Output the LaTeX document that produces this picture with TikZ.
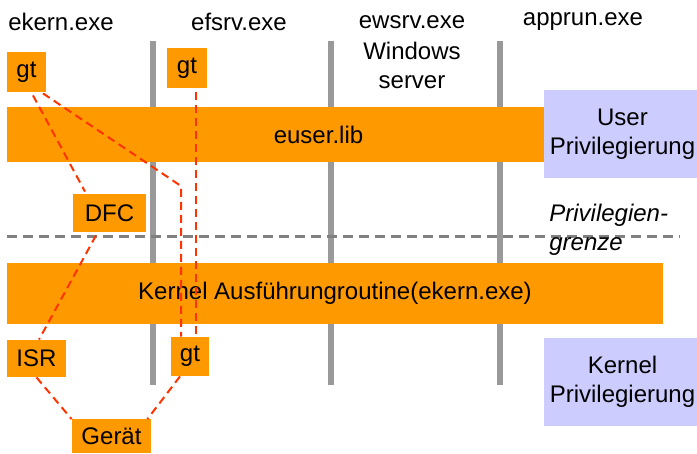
\documentclass[tikz,border=0pt]{standalone}
\usepackage{fontspec}
\setmainfont{Liberation Sans}
\usetikzlibrary{calc}
\definecolor{orng}{HTML}{FF9900}
\definecolor{lav}{HTML}{CCCCFF}
\definecolor{vgray}{HTML}{999999}
\definecolor{dgray}{HTML}{808080}
\definecolor{rdash}{HTML}{FF3300}
\tikzset{
  every node/.style={font=\fontsize{12}{14.5}\selectfont, inner sep=0pt, align=center},
  obox/.style={fill=orng, draw=none},
  lbox/.style={fill=lav, draw=none},
  vline/.style={draw=vgray, line width=3pt},
  rline/.style={draw=rdash, line width=1pt, dash pattern=on 4pt off 2.5pt},
  gline/.style={draw=dgray, line width=1.5pt, dash pattern=on 5pt off 3pt},
}
\begin{document}
\begin{tikzpicture}[x=0.5pt,y=-0.5pt]
\useasboundingbox (0,0) rectangle (697,454);
% headers
\node (h1) at (61,22) {ekern.exe};
\node (h2) at (239,22) {efsrv.exe};
\node (h3) at (412,22) {ewsrv.exe};
\node (h4) at (583,22) {apprun.exe};
\node (win) at (412,65) {Windows\\[0pt]server};
% vertical gray lines
\coordinate (v1t) at (153,41); \coordinate (v1b) at (153,385);
\coordinate (v2t) at (331,41); \coordinate (v2b) at (331,385);
\coordinate (v3t) at (500,41); \coordinate (v3b) at (500,385);
\draw[vline] (v1t) -- (v1b);
\draw[vline] (v2t) -- (v2b);
\draw[vline] (v3t) -- (v3b);
% bars
\node[obox, minimum width=311.5pt, minimum height=27.5pt] (euser) at (318.5,134.5) {euser.lib};
\node[lbox, minimum width=78.5pt, minimum height=44pt] (userp) at (622.5,134) {User\\Privilegierung};
\node[obox, minimum width=328pt, minimum height=30.5pt] (kern) at (335,293.5) {Kernel Ausführungroutine(ekern.exe)};
\node[lbox, minimum width=78.5pt, minimum height=44pt] (kernp) at (622.5,382) {Kernel\\Privilegierung};
% small boxes
\node[obox, minimum width=19.5pt, minimum height=20pt] (gt1) at (26.5,72) {gt};
\node[obox, minimum width=20pt, minimum height=20pt] (gt2) at (187,68) {gt};
\node[obox, minimum width=36.5pt, minimum height=19pt] (dfc) at (109.5,213) {DFC};
\node[obox, minimum width=29.5pt, minimum height=18.5pt] (isr) at (36.5,358.5) {ISR};
\node[obox, minimum width=19pt, minimum height=19.5pt] (gt3) at (190,356.5) {gt};
\node[obox, minimum width=39.5pt, minimum height=17pt] (geraet) at (111.5,436.5) {Gerät};
% privilege boundary
\coordinate (pl) at (7,237);
\coordinate (pr) at (680,237);
\draw[gline] (pl) -- (pr);
\node[anchor=west, font=\fontsize{12}{14.5}\selectfont\itshape, align=left] (pg) at (549,230) {Privilegien-\\[0pt]grenze};
% red dashed connectors
\coordinate (b1) at (181,186);
\coordinate (g2s) at ($(gt2.south)+(9,4)$);
\draw[rline] ($(gt1.south)+(6.5,3)$) -- ($(dfc.north)+(-24.5,-2)$);
\draw[rline] ($(gt1.south)+(16.5,1)$) -- (b1) -- (b1 |- gt3.north);
\draw[rline] (g2s) -- (g2s |- gt3.north);
\draw[rline] ($(dfc.south)+(-13.5,3)$) -- ($(isr.north)+(2.5,0)$);
\draw[rline] (isr.south) -- (geraet.north west);
\draw[rline] ($(gt3.south)+(-10,0)$) -- ($(geraet.north east)+(-4,0)$);
\end{tikzpicture}
\end{document}
